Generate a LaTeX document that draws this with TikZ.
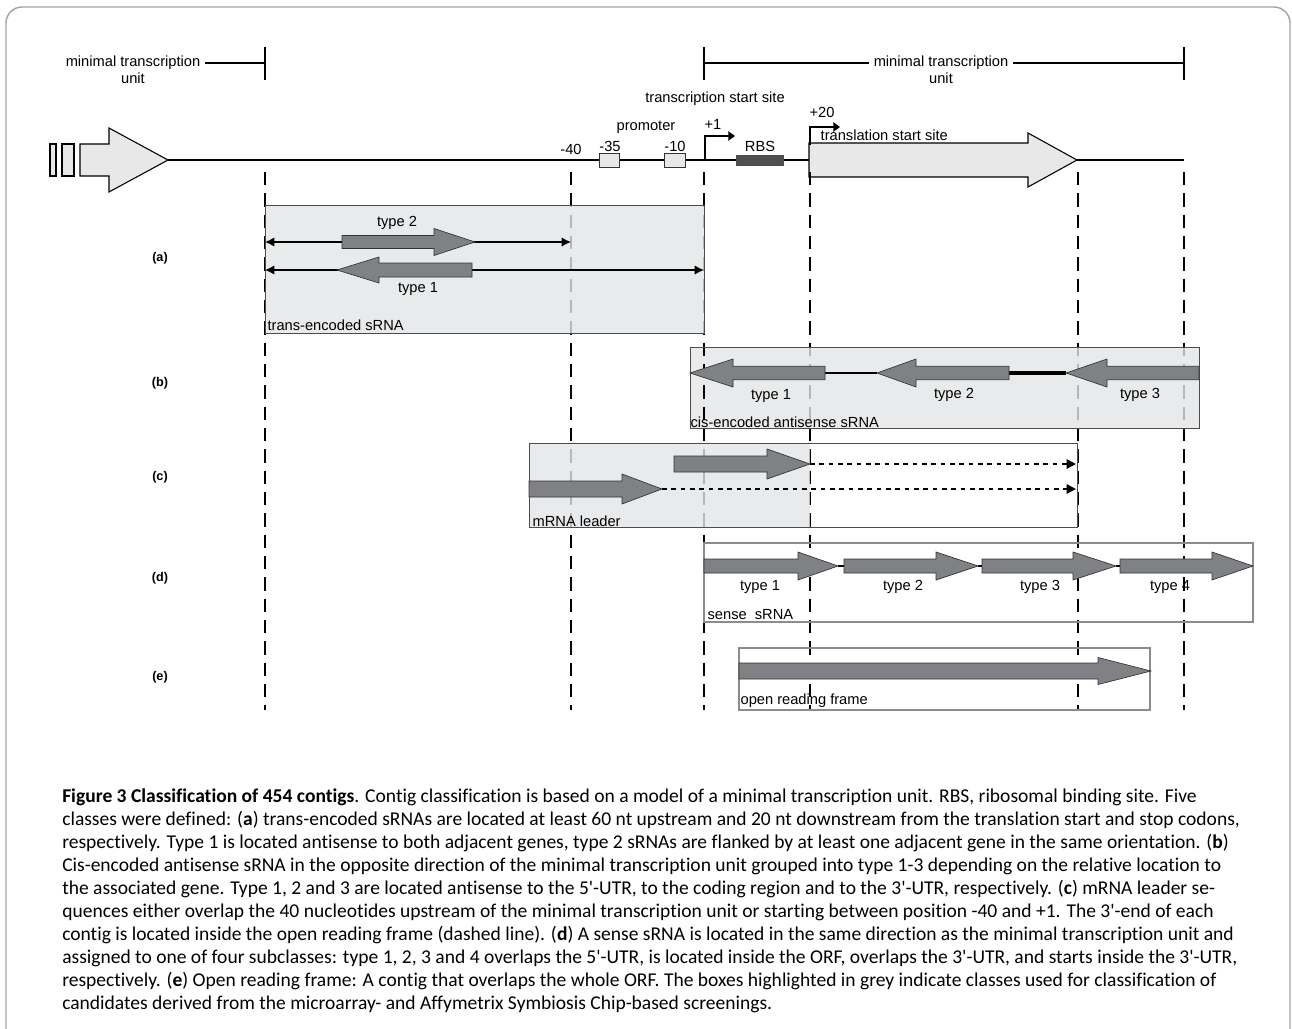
\documentclass[tikz,border=0pt]{standalone}
\usepackage{fontspec}
\setmainfont{Liberation Sans}
\newfontfamily\capfont[Ligatures=NoCommon]{Carlito}
\usepackage{tikz}
\usetikzlibrary{positioning, arrows.meta}

\definecolor{boxgray}{RGB}{228,229,230}
\definecolor{arrgray}{RGB}{128,129,132}
\definecolor{genegray}{RGB}{232,232,232}
\definecolor{rbsgray}{RGB}{80,80,80}
\definecolor{framegray}{RGB}{165,165,165}

\newcommand{\garrow}[7]{\filldraw [#1] (#2,#5-#6) -- (#3,#5-#6) -- (#3,#5-#7) -- (#4,#5) -- (#3,#5+#7) -- (#3,#5+#6) -- (#2,#5+#6) -- cycle;}

\begin{document}
\begin{tikzpicture}[x=0.75pt, y=-0.75pt, font=\fontsize{11}{13}\selectfont,
    vline/.style={line width=1.5pt, dash pattern=on 10pt off 6pt},
    band/.style={fill=boxgray, fill opacity=0.8, draw=black!70, line width=0.6pt},
    rna/.style={fill=arrgray, draw=black!80, line width=0.5pt},
    gene/.style={fill=genegray, draw=black, line width=0.8pt},
    tag/.style={font=\fontsize{9.5}{11}\selectfont\bfseries},
    span/.style={{Latex[length=7pt,width=7pt]}-{Latex[length=7pt,width=7pt]}, line width=0.9pt},
    ext/.style={-{Triangle[length=7pt,width=7pt]}, line width=1.4pt, dash pattern=on 3.5pt off 3.5pt},
    bent/.style={-{Triangle[length=5pt,width=7pt]}, line width=2.2pt},
    bar/.style={line width=1.4pt}]
        \useasboundingbox (0,0) rectangle (1292,1028);
        \draw [framegray, line width=1.1pt, rounded corners=12pt] (6,1100) -- (6,7) -- (1290,7) -- (1290,1100);

        \node (mtuA) at (133,63) {minimal transcription};
        \node (unitA) at (133,78) {unit};
        \coordinate (tickA) at (265,63);
        \draw [bar] (mtuA.east) -- (mtuA.east -| tickA);
        \draw [bar] (265,47) -- (265,80);
        \node (mtuB) at (941,63) {minimal transcription};
        \node (unitB) at (941,78) {unit};
        \coordinate (tickB) at (704,63);
        \coordinate (tickC) at (1184,63);
        \draw [bar] (tickB) -- (tickB -| mtuB.west);
        \draw [bar] (mtuB.east) -- (mtuB.east -| tickC);
        \draw [bar] (704,47) -- (704,80);
        \draw [bar] (1184,47) -- (1184,80);

        \draw [line width=1.1pt] (168,160) -- (1184,160);
        \filldraw [gene] (50,144) rectangle (56,176);
        \filldraw [gene] (62,144) rectangle (74,176);
        \garrow{gene}{80}{109}{168}{160}{16}{32}
        \filldraw [fill=genegray, draw=black!80, line width=0.6pt] (599,153) rectangle (619,167);
        \filldraw [fill=genegray, draw=black!80, line width=0.6pt] (664,153) rectangle (685,167);
        \filldraw [fill=rbsgray, draw=black!70, line width=0.6pt] (736,155) rectangle (783,165);
        \garrow{gene}{809}{1028}{1077}{160}{17}{27}
        \coordinate (p1) at (705,161);
        \coordinate (p1e) at (735,136);
        \coordinate (p20) at (810,145);
        \coordinate (p20e) at (840,127);
        \draw [bent] (p1) |- (p1e);
        \draw [bent] (p20) |- (p20e);
        \node (tss) at (715,99) {transcription start site};
        \node (plus1) at (713,124) {+1};
        \node (plus20) at (822,112) {+20};
        \node (tls) [anchor=west] at (816,135) {translation start site};
        \node (prom) at (646,127) {promoter};
        \node (m35) at (610,146) {-35};
        \node (m10) at (675,146) {-10};
        \node (m40) at (571,149) {-40};
        \node (rbs) at (760,146) {RBS};

        \foreach \x in {265,571,704,810,1078,1184}
            \draw [vline] (\x,172) -- (\x,710);

        \draw [band] (265,205) rectangle (704,333);
        \draw [band] (690,347) rectangle (1199,428);
        \begin{scope}
            \clip (690,348) rectangle (720,427);
            \draw [vline] (704,172) -- (704,710);
        \end{scope}
        \fill [boxgray, fill opacity=0.8] (529,443) rectangle (810,527);
        \draw [black!70, line width=0.6pt] (529,443) rectangle (1077,527);
        \draw [black!45, line width=0.8pt] (704,543) rectangle (1253,622);
        \draw [black!45, line width=0.8pt] (739,648) rectangle (1150,710);

        \node (pa) [tag] at (160,258) {(a)};
        \node (pb) [tag] at (160,383) {(b)};
        \node (pc) [tag] at (160,477) {(c)};
        \node (pd) [tag] at (160,578) {(d)};
        \node (pe) [tag] at (160,677) {(e)};

        \coordinate (a2l) at (265,242);
        \coordinate (a2r) at (571,242);
        \coordinate (a1l) at (265,270);
        \coordinate (a1r) at (704,270);
        \draw [span] (a2l) -- (a2r);
        \draw [span] (a1l) -- (a1r);
        \garrow{rna}{342}{434}{475}{242}{6.5}{13.5}
        \garrow{rna}{472}{379}{337}{270}{7}{13}
        \node (a2t) at (397,223) {type 2};
        \node (a1t) at (418,289) {type 1};
        \node (alab) [anchor=south west, inner sep=1pt] at (266,332) {trans-encoded sRNA};

        \coordinate (b1e) at (825,373);
        \coordinate (b2t) at (877,373);
        \coordinate (b2e) at (1009,373);
        \coordinate (b3t) at (1066,373);
        \draw [line width=0.9pt] (b1e) -- (b2t);
        \draw [line width=3pt] (b2e) -- (b3t);
        \garrow{rna}{825}{733}{690}{373}{6.7}{14}
        \garrow{rna}{1009}{916}{877}{373}{6.7}{14}
        \garrow{rna}{1199}{1107}{1066}{373}{6.7}{14}
        \node (b1t) at (771,396) {type 1};
        \node (b2l) at (954,395) {type 2};
        \node (b3l) at (1140,395) {type 3};
        \node (blab) [anchor=south west, inner sep=1pt] at (689,429) {cis-encoded antisense sRNA};

        \coordinate (c1t) at (810,464);
        \coordinate (c1e) at (1076,464);
        \coordinate (c2t) at (662,489);
        \coordinate (c2e) at (1076,489);
        \garrow{rna}{674}{767}{810}{464}{8}{15}
        \garrow{rna}{529}{622}{662}{489}{8}{15}
        \draw [ext] (c1t) -- (c1e);
        \draw [ext] (c2t) -- (c2e);
        \node (clab) [anchor=south west, inner sep=1pt] at (531,528) {mRNA leader};

        \coordinate (d1) at (838,566);
        \coordinate (d2) at (844,566);
        \coordinate (d3) at (978,566);
        \coordinate (d4) at (982,566);
        \coordinate (d5) at (1116,566);
        \coordinate (d6) at (1120,566);
        \draw [line width=1pt] (d1) -- (d2);
        \draw [line width=1pt] (d3) -- (d4);
        \draw [line width=1pt] (d5) -- (d6);
        \garrow{rna}{704}{798}{838}{566}{7}{14}
        \garrow{rna}{844}{936}{978}{566}{7}{14}
        \garrow{rna}{982}{1073}{1116}{566}{7}{14}
        \garrow{rna}{1120}{1212}{1253}{566}{7}{14}
        \node (d1l) at (760,587) {type 1};
        \node (d2l) at (903,587) {type 2};
        \node (d3l) at (1040,587) {type 3};
        \node (d4l) at (1170,587) {type 4};
        \node (dlab) [anchor=south west, inner sep=1pt] at (706,621) {sense\ \ sRNA};

        \garrow{rna}{739}{1098}{1151}{671}{8}{13.5}
        \node (elab) [anchor=south west, inner sep=1pt] at (739,709) {open reading frame};

        \node (cap) [anchor=north west, align=left, inner sep=0pt, font=\capfont\fontsize{14.65}{17.25}\selectfont] at (62,789)
            {\textbf{Figure 3 Classification of 454 contigs}. Contig classification is based on a model of a minimal transcription unit. RBS, ribosomal binding site. Five\\
            classes were defined: (\textbf{a}) trans-encoded sRNAs are located at least 60 nt upstream and 20 nt downstream from the translation start and stop codons,\\
            respectively. Type 1 is located antisense to both adjacent genes, type 2 sRNAs are flanked by at least one adjacent gene in the same orientation. (\textbf{b})\\
            Cis-encoded antisense sRNA in the opposite direction of the minimal transcription unit grouped into type 1-3 depending on the relative location to\\
            the associated gene. Type 1, 2 and 3 are located antisense to the 5'-UTR, to the coding region and to the 3'-UTR, respectively. (\textbf{c}) mRNA leader se-\\
            quences either overlap the 40 nucleotides upstream of the minimal transcription unit or starting between position -40 and +1. The 3'-end of each\\
            contig is located inside the open reading frame (dashed line). (\textbf{d}) A sense sRNA is located in the same direction as the minimal transcription unit and\\
            assigned to one of four subclasses: type 1, 2, 3 and 4 overlaps the 5'-UTR, is located inside the ORF, overlaps the 3'-UTR, and starts inside the 3'-UTR,\\
            respectively. (\textbf{e}) Open reading frame: A contig that overlaps the whole ORF. The boxes highlighted in grey indicate classes used for classification of\\
            candidates derived from the microarray- and Affymetrix Symbiosis Chip-based screenings.};
    \end{tikzpicture}
\end{document}
